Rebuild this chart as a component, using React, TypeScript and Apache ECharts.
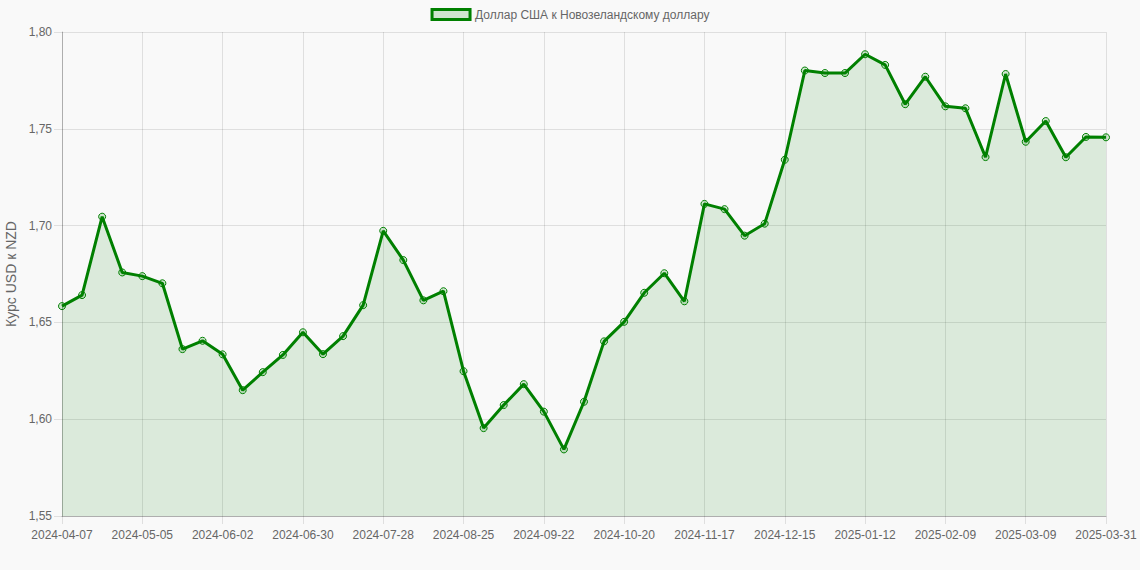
import React, { useEffect, useRef } from "react";
import * as echarts from "echarts";

const dates = [
  "2024-04-07", "2024-04-14", "2024-04-21", "2024-04-28", "2024-05-05", "2024-05-12", "2024-05-19", "2024-05-26",
  "2024-06-02", "2024-06-09", "2024-06-16", "2024-06-23", "2024-06-30", "2024-07-07", "2024-07-14", "2024-07-21",
  "2024-07-28", "2024-08-04", "2024-08-11", "2024-08-18", "2024-08-25", "2024-09-01", "2024-09-08", "2024-09-15",
  "2024-09-22", "2024-09-29", "2024-10-06", "2024-10-13", "2024-10-20", "2024-10-27", "2024-11-03", "2024-11-10",
  "2024-11-17", "2024-11-24", "2024-12-01", "2024-12-08", "2024-12-15", "2024-12-22", "2024-12-29", "2025-01-05",
  "2025-01-12", "2025-01-19", "2025-01-26", "2025-02-02", "2025-02-09", "2025-02-16", "2025-02-23", "2025-03-02",
  "2025-03-09", "2025-03-16", "2025-03-23", "2025-03-30", "2025-03-31",
];

const usdNzd = [
  1.6584, 1.6641, 1.7046, 1.6758, 1.6739, 1.6702, 1.6362, 1.6405, 1.6335, 1.6150, 1.6243, 1.6332, 1.6449,
  1.6336, 1.6429, 1.6589, 1.6973, 1.6822, 1.6614, 1.6661, 1.6248, 1.5954, 1.6073, 1.6181, 1.6039, 1.5844,
  1.6090, 1.6402, 1.6503, 1.6653, 1.6754, 1.6609, 1.7112, 1.7085, 1.6948, 1.7010, 1.7340, 1.7801, 1.7788,
  1.7788, 1.7885, 1.7830, 1.7627, 1.7769, 1.7616, 1.7606, 1.7354, 1.7783, 1.7433, 1.7540, 1.7353, 1.7458,
  1.7456,
];

const seriesName = "Доллар США к Новозеландскому доллару";
const yAxisName = "Курс USD к NZD";

const FONT = "'Liberation Sans', Arial, Helvetica, sans-serif";
const FILL = "rgba(0,128,0,0.17)";

export default function App() {
  const ref = useRef<HTMLDivElement>(null);
  useEffect(() => {
    document.body.style.margin = "0";
    const chart = echarts.init(ref.current!, undefined, { renderer: "svg" });
    chart.setOption({
      animation: false,
      backgroundColor: "#f9f9f9",
      textStyle: { fontFamily: FONT },
      legend: {
        top: 3,
        left: "center",
        icon: "rect",
        itemWidth: 38,
        itemHeight: 10,
        itemGap: 10,
        itemStyle: { color: FILL, borderColor: "#008000", borderWidth: 3 },
        textStyle: { color: "#666", fontSize: 12, fontFamily: FONT },
        data: [seriesName],
      },
      grid: { left: 62, right: 34, top: 32, bottom: 54, containLabel: false, outerBoundsMode: "none" },
      xAxis: {
        type: "category",
        boundaryGap: false,
        data: dates,
        axisLine: { show: true, lineStyle: { color: "rgba(0,0,0,0.22)", width: 1 } },
        axisTick: { show: true, length: 8, interval: 3, lineStyle: { color: "rgba(0,0,0,0.1)" } },
        axisLabel: { interval: 3, color: "#666", fontSize: 12, margin: 13, fontFamily: FONT },
        splitLine: { show: true, interval: 3, lineStyle: { color: "rgba(0,0,0,0.1)", width: 1 } },
      },
      yAxis: {
        type: "value",
        min: 1.55,
        max: 1.8,
        interval: 0.05,
        name: yAxisName,
        nameLocation: "middle",
        nameGap: 43,
        nameTextStyle: { color: "#666", fontSize: 14, fontFamily: FONT },
        axisLine: { show: true, lineStyle: { color: "rgba(0,0,0,0.22)", width: 1 } },
        axisTick: { show: true, length: 8, lineStyle: { color: "rgba(0,0,0,0.1)" } },
        axisLabel: {
          color: "#666",
          fontSize: 12,
          margin: 10,
          fontFamily: FONT,
          formatter: (v: number) => v.toFixed(2).replace(".", ","),
        },
        splitLine: { show: true, lineStyle: { color: "rgba(0,0,0,0.1)", width: 1 } },
      },
      series: [
        {
          name: seriesName,
          type: "line",
          data: usdNzd,
          symbol: "circle",
          symbolSize: 7,
          showAllSymbol: true,
          lineStyle: { color: "#008000", width: 3 },
          itemStyle: { color: FILL, borderColor: "#008000", borderWidth: 1 },
          areaStyle: { color: FILL, origin: "start" },
          emphasis: { disabled: true },
          z: 3,
        },
      ],
    });
    return () => chart.dispose();
  }, []);
  return <div ref={ref} style={{ width: 1140, height: 570 }} />;
}
